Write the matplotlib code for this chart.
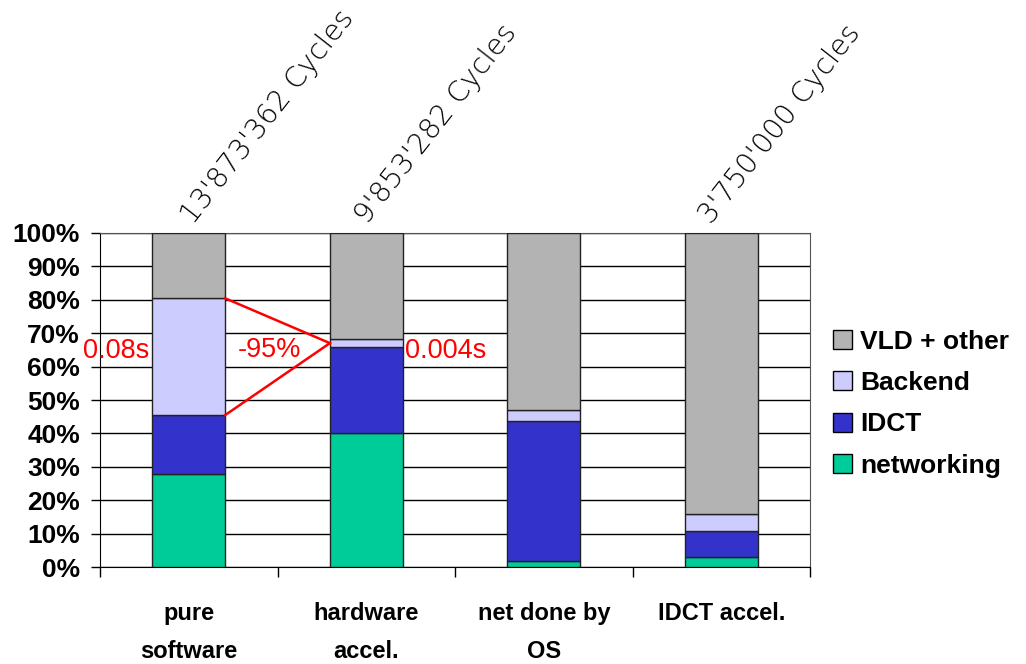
import matplotlib
matplotlib.use("Agg")
import matplotlib.pyplot as plt
import numpy as np
from matplotlib.patches import Patch

categories = ["pure\nsoftware", "hardware\naccel.", "net done by\nOS", "IDCT accel."]
networking = [27.9, 40.0, 2.0, 3.0]
idct = [17.6, 25.9, 41.7, 7.8]
backend = [34.9, 2.2, 3.2, 5.2]
vld_other = [19.6, 31.9, 53.1, 84.0]
cycle_labels = ["13'873'362 Cycles", "9'853'282 Cycles", None, "3'750'000 Cycles"]
series_names = ["networking", "IDCT", "Backend", "VLD + other"]
colors = ["#00CC99", "#3333CC", "#CCCCFF", "#B3B3B3"]
yticks = list(range(0, 101, 10))

# horizontal nudges of the rotated cycle labels (layout only)
label_dx = [0.05, 0.03, 0.0, -0.03]

plt.rcParams['font.family'] = ['Liberation Sans', 'DejaVu Sans']

fig = plt.figure(figsize=(10.26, 6.64), dpi=100)
ax = fig.add_axes([0.0975, 0.1456, 0.7895 - 0.0975, 0.6495 - 0.1456])

x = np.arange(len(categories))
width = 0.41
series = [networking, idct, backend, vld_other]
bottom = np.zeros(len(categories))
for vals, c, name in zip(series, colors, series_names):
    ax.bar(x, vals, width, bottom=bottom, color=c, edgecolor="#222222",
           linewidth=1.0, zorder=3, label=name)
    bottom += np.array(vals)

ax.set_xlim(-0.5, 3.5)
ax.set_ylim(0, 100)
ax.set_yticks(yticks)
ax.set_yticklabels([f"{v}%" for v in yticks], fontsize=19, fontweight="bold")
ax.yaxis.grid(True, color="black", linewidth=1.0, zorder=0)
ax.tick_params(axis="y", length=6.5, width=1, direction="out", pad=8)

# x ticks between categories, labels at centres
ax.set_xticks(np.arange(-0.5, 4.0, 1.0))
ax.set_xticklabels([])
ax.tick_params(axis="x", length=7, width=1, direction="out")
for xi, lab in zip(x, categories):
    ax.text(xi, -10.5, lab, ha="center", va="top", fontsize=17, fontweight="bold",
            linespacing=1.8, clip_on=False)

for s in ["top", "right"]:
    ax.spines[s].set_visible(True)
    ax.spines[s].set_color("#555555")
ax.spines["left"].set_color("black")
ax.spines["bottom"].set_color("black")

# rotated cycle labels above bars
for xi, lab, dx in zip(x, cycle_labels, label_dx):
    if lab is None:
        continue
    ax.text(xi + dx, 101, lab, rotation=52, rotation_mode="anchor",
            ha="left", va="bottom", fontsize=20.5, fontfamily="DejaVu Sans",
            fontweight="light", clip_on=False)

# red annotations
top_b1 = networking[0] + idct[0] + backend[0]
bot_b1 = networking[0] + idct[0]
mid_b2 = networking[1] + idct[1] + backend[1] / 2
x0 = x[0] + width / 2
x1 = x[1] - width / 2
ax.plot([x0, x1], [top_b1, mid_b2], color="red", linewidth=1.8, zorder=5, clip_on=False)
ax.plot([x0, x1], [bot_b1, mid_b2], color="red", linewidth=1.8, zorder=5, clip_on=False)
ax.text(-0.598, 64.8, "0.08s", color="red", fontsize=19.5, ha="left", va="center", zorder=6)
ax.text(0.277, 65.0, "-95%", color="red", fontsize=19.5, ha="left", va="center", zorder=6)
ax.text(1.218, 64.8, "0.004s", color="red", fontsize=19.5, ha="left", va="center", zorder=6)

handles = [Patch(facecolor=c, edgecolor="black", label=n) for c, n in zip(colors, series_names)]
handles = handles[::-1]
leg = fig.legend(handles=handles, loc="center left", bbox_to_anchor=(0.812, 0.392),
                 frameon=False, prop={"size": 19, "weight": "bold"},
                 handlelength=0.72, handleheight=0.72, handletextpad=0.3,
                 labelspacing=0.66, borderaxespad=0, borderpad=0)

fig.savefig("out.png", dpi=100)
